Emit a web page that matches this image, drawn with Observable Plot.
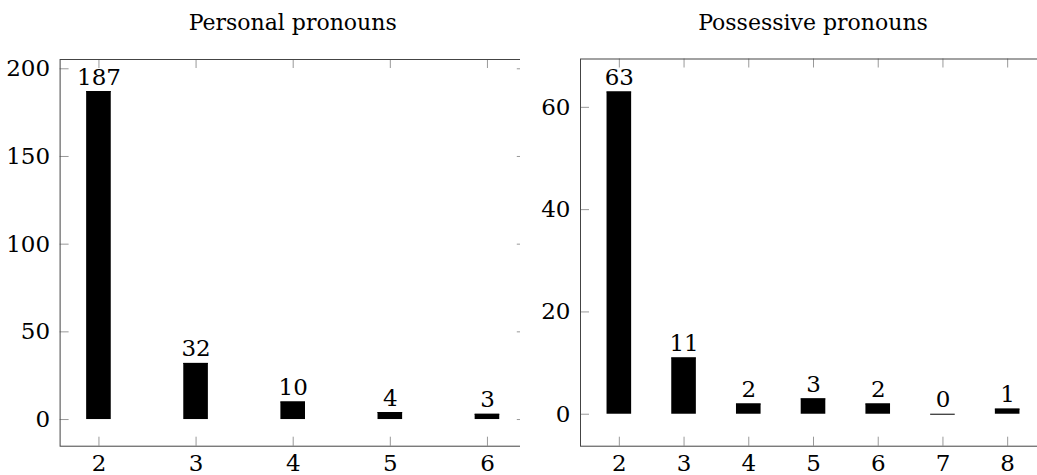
<!DOCTYPE html>
<html><head><meta charset="utf-8">
<script src="https://cdn.jsdelivr.net/npm/d3@7"></script>
<script src="https://cdn.jsdelivr.net/npm/@observablehq/plot@0.6"></script>
<style>
html,body{margin:0;padding:0;background:#fff;overflow:hidden}
#wrap{position:relative;width:1037px;height:475px;overflow:hidden;background:#fff}
.panel{position:absolute;top:0}
.title{position:absolute;top:10px;text-align:center;font-family:'DejaVu Serif','Liberation Serif','Times New Roman',serif;font-size:22px;line-height:25px;color:#000;white-space:nowrap}
</style></head><body><div id="wrap"></div>
<script>
// Data
const personalLengths = [2, 3, 4, 5, 6];
const personalCounts = [187, 32, 10, 4, 3];
const possessiveLengths = [2, 3, 4, 5, 6, 7, 8];
const possessiveCounts = [63, 11, 2, 3, 2, 0, 1];
const personalYTicks = [0, 50, 100, 150, 200];
const possessiveYTicks = [0, 20, 40, 60];
const panelTitles = ["Personal pronouns", "Possessive pronouns"];

const FONT = "'DejaVu Serif', 'Liberation Serif', 'Times New Roman', serif";
const FS = 23;
const TICK = 9;
const BAR_PX = 24.6;

function panel({title, ks, vs, xTicks, yTicks, xDomain, yDomain, left, width, height, mL, mR, mT, mB}) {
  const data = ks.map((k, i) => ({k, v: vs[i]}));
  const fw = width - mL - mR, fh = height - mT - mB;
  const hw = (BAR_PX / 2) / (fw / (xDomain[1] - xDomain[0]));
  const chart = Plot.plot({
    width, height,
    marginLeft: mL, marginRight: mR, marginTop: mT, marginBottom: mB,
    x: {domain: xDomain},
    y: {domain: yDomain},
    style: {fontFamily: FONT, fontSize: FS + "px", color: "#000", background: "#fff", overflow: "visible"},
    marks: [
      Plot.rect(data, {x1: d => d.k - hw, x2: d => d.k + hw, y1: 0, y2: "v", fill: "#000"}),
      Plot.ruleY(data, {y: "v", x1: d => d.k - hw, x2: d => d.k + hw, stroke: "#000", strokeWidth: 1}),
      Plot.text(data, {x: "k", y: "v", text: d => String(d.v), lineAnchor: "bottom", dy: -7, fontSize: FS, fontFamily: FONT, fill: "#000"}),
      Plot.ruleX(xTicks, {x: d => d, insetTop: fh - TICK, stroke: "#999"}),
      Plot.ruleX(xTicks, {x: d => d, insetBottom: fh - TICK, stroke: "#999"}),
      Plot.ruleY(yTicks, {y: d => d, insetRight: fw - TICK, stroke: "#999"}),
      Plot.ruleY(yTicks, {y: d => d, insetLeft: fw - TICK, stroke: "#999"}),
      Plot.axisX({ticks: xTicks, tickSize: 0, tickPadding: 8.5, label: null, fontSize: FS, fontFamily: FONT, tickFormat: d => String(d)}),
      Plot.axisY({ticks: yTicks, tickSize: 0, tickPadding: 10, label: null, fontSize: FS, fontFamily: FONT, tickFormat: d => String(d)}),
      Plot.frame({stroke: "#444"})
    ]
  });
  const div = document.createElement("div");
  div.className = "panel";
  div.style.left = left + "px";
  div.style.width = width + "px";
  div.style.height = height + "px";
  const t = document.createElement("div");
  t.className = "title";
  t.textContent = title;
  t.style.left = mL + "px";
  t.style.width = fw + "px";
  div.appendChild(chart);
  div.appendChild(t);
  return div;
}

const wrap = document.getElementById("wrap");
wrap.appendChild(panel({
  title: panelTitles[0], ks: personalLengths, vs: personalCounts,
  xTicks: personalLengths, yTicks: personalYTicks,
  xDomain: [1.6, 6.4], yDomain: [-15.2, 205.3],
  left: 0, width: 540, height: 475, mL: 59.6, mR: 14.2, mT: 59, mB: 29.3
}));
wrap.appendChild(panel({
  title: panelTitles[1], ks: possessiveLengths, vs: possessiveCounts,
  xTicks: possessiveLengths, yTicks: possessiveYTicks,
  xDomain: [1.4, 8.6], yDomain: [-6.25, 69.45],
  left: 520, width: 540, height: 475, mL: 60, mR: 14, mT: 58.5, mB: 29.3
}));
</script>
</body></html>
